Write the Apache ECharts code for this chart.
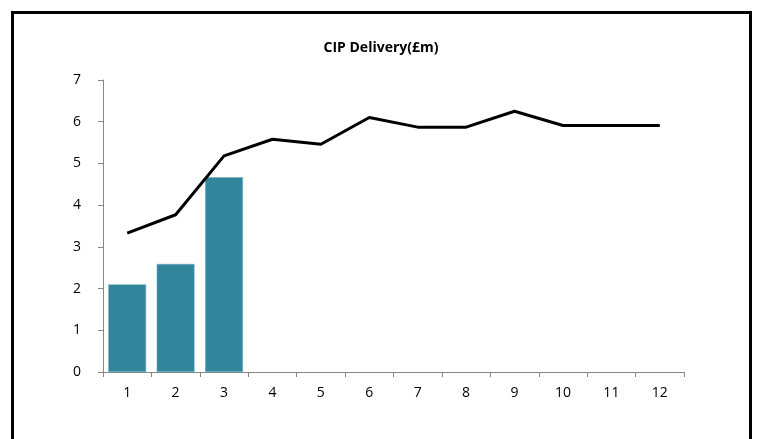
<!DOCTYPE html>
<html>
<head>
<meta charset="utf-8">
<script src="https://cdn.jsdelivr.net/npm/echarts@6/dist/echarts.min.js"></script>
<style>
  html, body { margin: 0; padding: 0; background: #fff; }
  #chart { width: 762px; height: 439px; }
</style>
</head>
<body>
<div id="chart"></div>
<script>
const categories = ['1', '2', '3', '4', '5', '6', '7', '8', '9', '10', '11', '12']
const actualValues = [2.10, 2.59, 4.67]
const forecastValues = [3.33, 3.77, 5.18, 5.58, 5.46, 6.10, 5.87, 5.87, 6.25, 5.91, 5.91, 5.91]
const yTicks = [0, 1, 2, 3, 4, 5, 6, 7]

const chart = echarts.init(document.getElementById('chart'))

const axisColor = '#868686'

chart.setOption({
    animation: false,
    textStyle: { fontFamily: 'Open Sans, Liberation Sans, sans-serif' },
    title: {
        text: 'CIP Delivery(£m)',
        left: 'center',
        top: 36,
        textStyle: { fontSize: 14, fontWeight: 'bold', color: '#000', fontFamily: 'Open Sans, sans-serif' }
    },
    graphic: [{
        type: 'rect',
        shape: { x: 12.5, y: 12.5, width: 738, height: 440 },
        style: { fill: 'none', stroke: '#000', lineWidth: 3 },
        silent: true
    }],
    grid: { left: 103, right: 78, top: 80, bottom: 67 },
    xAxis: {
        type: 'category',
        data: categories,
        boundaryGap: true,
        axisLine: { lineStyle: { color: axisColor, width: 1 } },
        axisTick: { show: true, length: 5, lineStyle: { color: axisColor } },
        axisLabel: { color: '#000', fontSize: 14, margin: 14 }
    },
    yAxis: {
        type: 'value',
        min: yTicks[0],
        max: yTicks[yTicks.length - 1],
        interval: 1,
        splitLine: { show: false },
        axisLine: { show: true, lineStyle: { color: axisColor, width: 1 } },
        axisTick: { show: true, length: 5, lineStyle: { color: axisColor } },
        axisLabel: { color: '#000', fontSize: 14, margin: 22 }
    },
    series: [
        {
            name: 'Actual',
            type: 'bar',
            data: actualValues,
            barCategoryGap: '22%',
            itemStyle: { color: '#31869c', borderColor: '#6aa9ba', borderWidth: 0.5 }
        },
        {
            name: 'Forecast',
            type: 'line',
            data: forecastValues,
            showSymbol: false,
            lineStyle: { color: '#000', width: 3 },
            z: 3
        }
    ]
})
</script>
</body>
</html>
